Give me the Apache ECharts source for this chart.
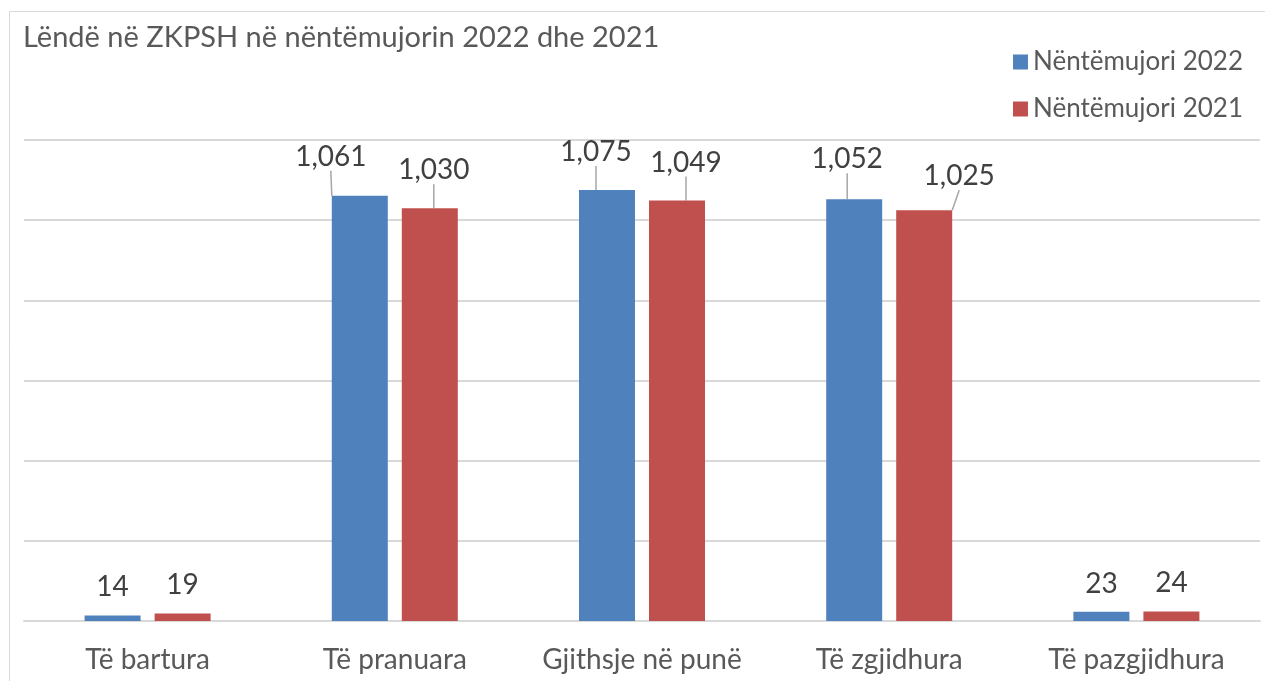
<!DOCTYPE html>
<html>
<head>
<meta charset="utf-8">
<script src="https://cdn.jsdelivr.net/npm/echarts@6/dist/echarts.min.js"></script>
<style>
  html, body { margin: 0; padding: 0; background: #fff; }
  #chart { width: 1265px; height: 681px; }
</style>
</head>
<body>
<div id="chart"></div>
<script>
// Data
const categories = ['Të bartura', 'Të pranuara', 'Gjithsje në punë', 'Të zgjidhura', 'Të pazgjidhura'];
const seriesNames = ['Nëntëmujori 2022', 'Nëntëmujori 2021'];
const values2022 = [14, 1061, 1075, 1052, 23];
const values2021 = [19, 1030, 1049, 1025, 24];

// Label shifts (dx, dy) for the labels that sit off their bars
const shift2022 = [[0, 0], [-29, -11], [-11, -10], [-7, -12], [0, 0]];
const shift2021 = [[0, 0], [4, -10], [9, -10], [35, -6], [0, 0]];

const colors = ['#4f81bd', '#c0504d'];
const fontFamily = 'Lato, "Open Sans", sans-serif';

const chart = echarts.init(document.getElementById('chart'));

function makeSeries(name, values, shifts, color) {
    // leader line only where the label was moved
    const data = values.map((v, i) => ({
        value: v,
        labelLine: { show: shifts[i][0] !== 0 || shifts[i][1] !== 0 }
    }));
    return {
        name: name,
        type: 'bar',
        data: data,
        barWidth: 56,
        barGap: '25%',
        itemStyle: { color: color },
        label: {
            show: true,
            position: 'top',
            distance: 14,
            color: '#404040',
            fontSize: 28,
            fontFamily: fontFamily,
            formatter: p => p.value.toLocaleString('en-US')
        },
        labelLine: {
            show: true,
            lineStyle: { color: '#a6a6a6', width: 1.5 }
        },
        labelLayout: function (params) {
            const s = shifts[params.dataIndex];
            return { dx: s[0], dy: s[1] };
        }
    };
}

chart.setOption({
    animation: false,
    title: {
        text: 'Lëndë në ZKPSH në nëntëmujorin 2022 dhe 2021',
        left: 18,
        top: 18,
        textStyle: {
            color: '#595959',
            fontSize: 29,
            fontWeight: 'normal',
            fontFamily: fontFamily
        }
    },
    legend: {
        orient: 'vertical',
        right: 17,
        top: 44,
        itemWidth: 15,
        itemHeight: 15,
        itemGap: 21,
        icon: 'rect',
        textStyle: { color: '#595959', fontSize: 26, fontFamily: fontFamily }
    },
    graphic: [{
        type: 'rect',
        shape: { x: 9.5, y: 11.5, width: 1300, height: 700 },
        style: { fill: 'none', stroke: '#d9d9d9', lineWidth: 1 },
        silent: true
    }],
    grid: { left: 24, right: 5, top: 140, bottom: 60 },
    xAxis: {
        type: 'category',
        data: categories,
        axisTick: { show: false },
        axisLine: { lineStyle: { color: '#d9d9d9', width: 2 } },
        axisLabel: {
            interval: 0,
            color: '#595959',
            fontSize: 28,
            fontFamily: fontFamily,
            margin: 25
        }
    },
    yAxis: {
        type: 'value',
        min: 0,
        max: 1200,
        interval: 200,
        axisLabel: { show: false },
        axisLine: { show: false },
        axisTick: { show: false },
        splitLine: { lineStyle: { color: '#d9d9d9', width: 2 } }
    },
    series: [
        makeSeries(seriesNames[0], values2022, shift2022, colors[0]),
        makeSeries(seriesNames[1], values2021, shift2021, colors[1])
    ]
});
</script>
</body>
</html>
